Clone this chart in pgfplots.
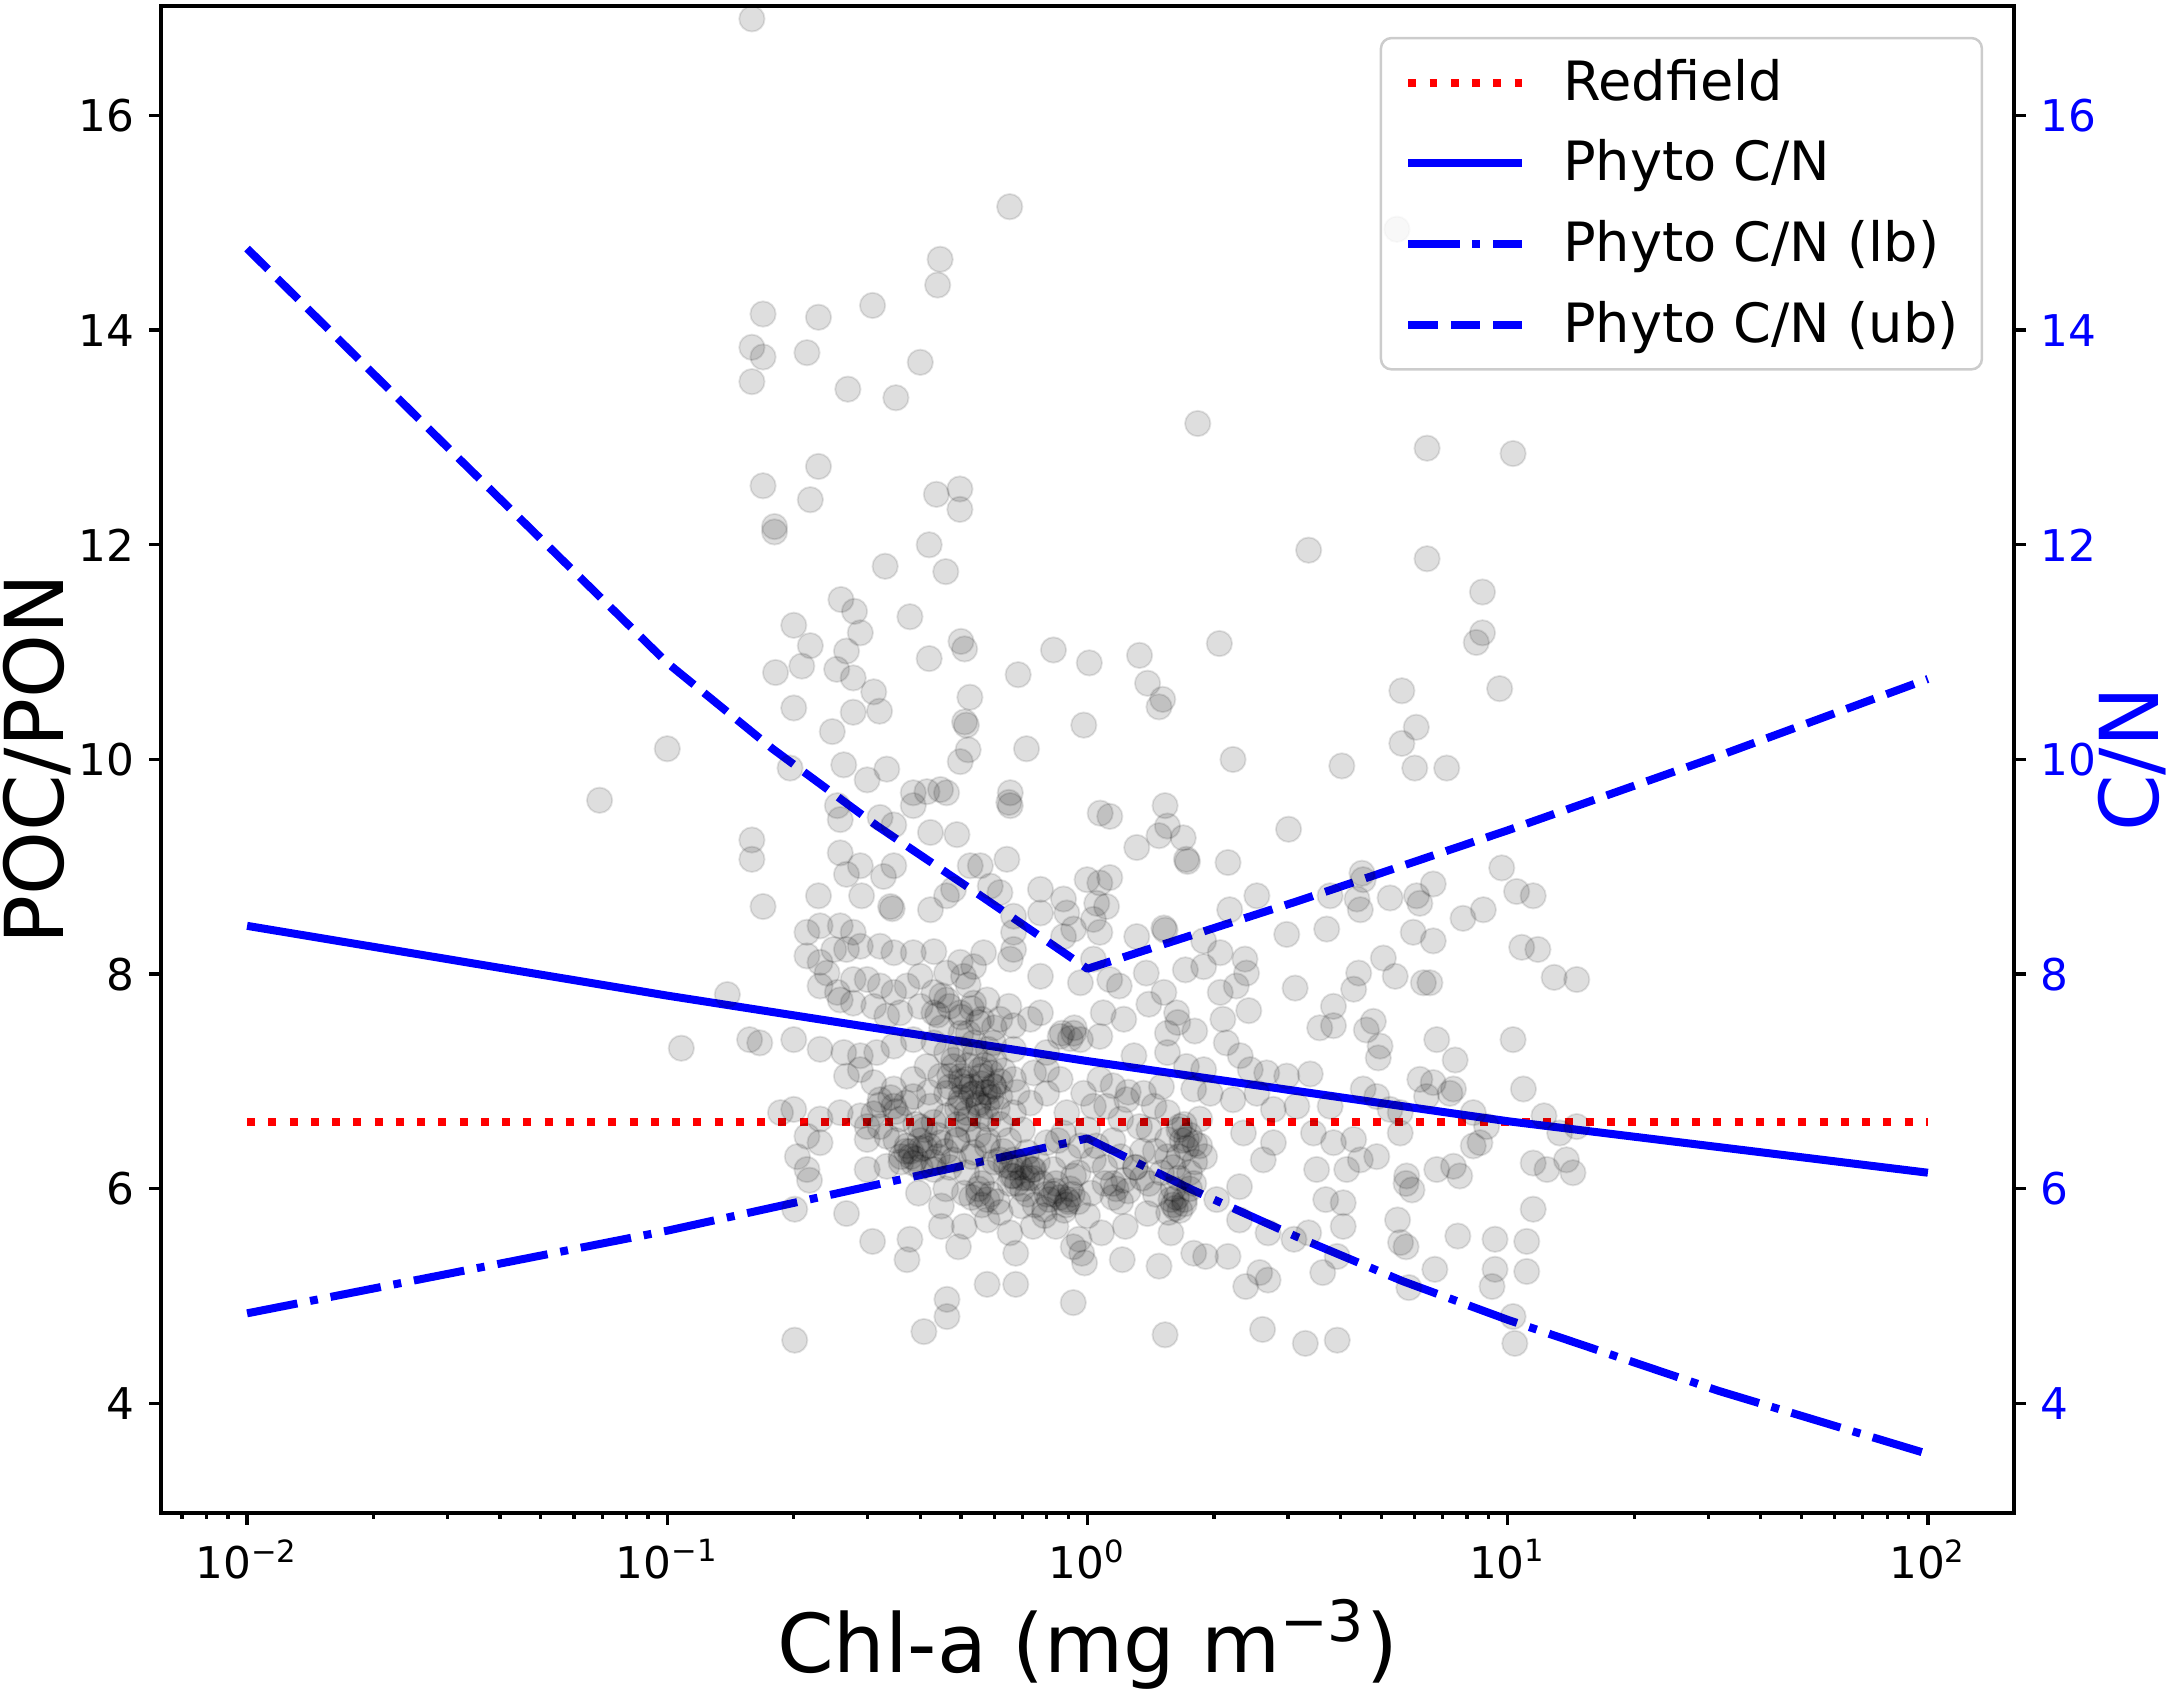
\documentclass[border=0pt]{standalone}
\usepackage{fontspec}
\setmainfont{DejaVu Sans}
\usepackage{pgfplots}
\usepackage{pgfplotstable}
\pgfplotsset{compat=1.18}

\pgfplotstableread{
x y
0.159 16.90
0.653 15.15
0.446 14.66
5.45 14.94
0.169 14.15
0.229 14.12
0.308 14.23
0.440 14.42
0.159 13.84
0.169 13.75
0.215 13.79
0.159 13.52
0.269 13.45
0.350 13.37
0.400 13.70
0.229 12.73
0.169 12.55
0.219 12.42
0.180 12.17
0.180 12.12
0.330 11.80
0.420 12.00
0.460 11.75
0.437 12.47
0.497 12.52
0.497 12.33
0.259 11.49
0.279 11.38
0.288 11.18
0.200 11.25
0.219 11.06
0.181 10.81
0.209 10.87
0.267 11.01
0.253 10.84
0.277 10.76
0.310 10.63
0.320 10.45
0.277 10.44
0.200 10.48
0.247 10.26
0.378 11.33
0.420 10.94
0.500 11.10
0.510 11.03
0.830 11.02
1.010 10.90
0.684 10.79
0.525 10.58
0.510 10.35
0.515 10.32
0.520 10.09
0.980 10.32
0.716 10.10
1.83 13.13
6.43 12.90
10.3 12.85
3.36 11.95
6.43 11.87
8.71 11.56
8.71 11.18
8.42 11.09
9.57 10.66
5.60 10.64
6.06 10.30
5.60 10.15
2.06 11.08
1.33 10.97
1.39 10.71
1.48 10.49
1.51 10.56
2.22 10.00
0.069 9.62
0.100 10.10
0.196 9.92
0.263 9.95
0.299 9.81
0.333 9.91
0.385 9.69
0.415 9.70
0.447 9.72
0.462 9.69
0.498 9.98
0.655 9.69
0.655 9.57
0.650 9.60
1.072 9.50
0.258 9.44
0.254 9.57
0.321 9.46
0.346 9.39
0.423 9.32
0.489 9.30
0.385 9.57
0.159 9.25
0.159 9.07
0.258 9.13
0.267 8.93
0.288 9.01
0.327 8.91
0.346 9.01
0.290 8.73
0.340 8.63
0.343 8.61
0.423 8.60
0.462 8.73
0.480 8.79
0.526 9.01
0.556 9.01
0.643 9.07
0.169 8.63
0.229 8.73
0.587 8.82
0.619 8.76
0.667 8.54
0.773 8.79
0.773 8.57
0.877 8.70
0.893 8.57
0.927 8.42
0.998 8.88
1.052 8.66
1.033 8.51
0.667 8.39
0.667 8.23
0.655 8.14
0.773 7.98
0.877 8.35
0.962 7.92
1.033 8.14
0.215 8.39
0.231 8.45
0.258 8.45
0.277 8.39
0.288 8.26
0.321 8.26
0.346 8.20
0.385 8.20
0.431 8.21
0.498 8.11
0.536 8.07
0.566 8.20
0.215 8.17
0.231 8.11
0.249 8.23
0.267 8.23
0.231 7.89
0.240 8.01
0.254 7.83
0.277 7.95
0.299 7.95
0.321 7.89
0.346 7.83
0.372 7.89
0.400 7.98
0.431 7.83
0.462 8.01
0.507 7.98
0.139 7.81
0.258 7.76
0.277 7.73
0.310 7.70
0.333 7.61
0.358 7.64
0.400 7.70
0.431 7.64
0.462 7.76
0.498 7.64
0.536 7.73
0.577 7.76
0.619 7.58
0.667 7.52
0.731 7.58
0.773 7.64
0.157 7.39
0.166 7.36
0.200 7.39
0.231 7.30
0.263 7.27
0.288 7.24
0.315 7.27
0.346 7.33
0.385 7.39
0.431 7.36
0.462 7.27
0.498 7.30
0.536 7.36
0.597 7.36
0.667 7.30
0.108 7.31
0.861 7.42
0.927 7.45
0.962 7.39
0.800 7.27
0.267 7.05
0.288 7.11
0.310 6.99
0.346 6.93
0.385 7.02
0.415 7.14
0.447 7.05
0.480 7.14
0.516 7.02
0.556 7.11
0.597 6.96
0.667 7.02
0.745 7.08
0.800 7.11
0.861 7.02
0.321 6.83
0.346 6.77
0.385 6.86
0.423 6.77
0.462 6.89
0.498 6.80
0.536 6.89
0.577 6.77
0.619 6.86
0.667 6.71
0.731 6.80
0.800 6.89
0.893 6.71
0.979 6.89
1.033 6.77
0.186 6.71
0.200 6.74
0.231 6.65
0.258 6.71
0.288 6.68
0.299 6.58
0.321 6.58
0.358 6.65
0.400 6.58
0.431 6.62
0.462 6.68
0.516 6.71
0.556 6.68
0.215 6.49
0.231 6.43
0.204 6.30
0.215 6.18
0.299 6.46
0.333 6.49
0.372 6.40
0.400 6.37
0.447 6.43
0.489 6.46
0.536 6.34
0.577 6.40
0.619 6.27
0.667 6.27
0.718 6.34
0.800 6.43
0.877 6.52
0.962 6.40
1.033 6.27
0.299 6.18
0.333 6.21
0.385 6.24
0.431 6.18
0.480 6.27
0.516 6.15
0.577 6.15
0.667 6.12
0.745 6.18
0.830 6.18
0.927 6.12
0.45 7.50
0.50 7.45
0.55 7.55
0.60 7.20
0.52 7.15
0.47 6.95
0.57 6.90
0.62 6.60
0.55 6.50
0.49 6.60
0.44 6.30
0.60 6.25
0.65 6.45
0.70 6.55
0.42 6.90
0.50 6.85
0.58 7.30
0.63 7.10
0.68 6.90
0.53 6.30
0.47 6.20
0.41 6.55
0.38 6.30
0.56 6.05
0.72 6.20
0.45 7.80
0.52 7.90
0.48 7.20
0.65 7.70
0.58 6.65
0.50 7.00
0.53 6.95
0.56 7.05
0.59 6.85
0.61 6.75
0.49 6.75
0.52 6.65
0.55 6.80
0.57 7.15
0.60 6.95
0.47 7.05
0.54 7.25
0.72 5.95
0.75 5.85
0.78 6.05
0.81 5.90
0.74 6.10
0.79 5.75
0.83 5.95
0.76 6.25
0.70 6.10
1.30 6.20
1.40 6.05
1.50 6.15
1.60 6.00
1.70 5.90
1.45 5.95
1.35 6.35
1.55 6.30
1.65 6.10
1.75 6.00
1.80 6.25
0.35 6.45
0.38 6.35
0.40 6.20
0.42 6.40
0.36 6.25
0.44 6.50
0.39 6.60
0.46 6.35
0.49 6.45
0.52 6.55
0.58 6.45
0.63 6.35
0.66 6.20
0.90 6.30
0.95 6.15
1.05 6.40
1.10 6.05
0.85 6.45
1.00 6.55
0.47 7.70
0.50 7.60
0.53 7.68
0.56 7.58
0.44 7.62
0.60 7.50
0.52 7.45
0.50 7.05
0.53 6.88
0.56 6.98
0.59 7.08
0.55 6.78
0.51 6.95
0.58 6.90
0.62 7.00
0.32 6.78
0.34 6.85
0.35 6.72
0.31 6.70
0.37 6.80
0.37 6.35
0.39 6.28
0.41 6.38
0.36 6.30
0.40 6.45
0.43 6.25
0.66 6.12
0.69 6.20
0.72 6.10
0.68 6.05
0.74 6.18
0.64 6.22
0.86 5.92
0.89 5.85
0.92 5.95
0.88 5.80
0.95 5.88
0.84 5.98
0.91 6.00
0.53 5.92
0.56 5.85
0.59 5.95
0.55 6.00
0.61 5.88
1.68 6.45
1.75 6.50
1.72 6.38
1.80 6.42
1.65 6.55
1.60 5.85
1.66 5.80
1.63 5.92
1.70 5.86
1.56 5.78
1.17 6.00
1.22 6.08
1.25 5.98
1.15 5.92
0.87 7.45
0.91 7.40
0.93 7.50
4.03 9.94
6.01 9.92
7.16 9.92
1.13 9.47
1.53 9.57
1.31 9.18
1.48 9.29
1.55 9.38
1.69 9.27
1.72 9.07
1.73 9.05
2.16 9.04
3.01 9.35
1.13 8.90
1.07 8.85
1.11 8.63
1.07 8.39
1.31 8.35
1.52 8.43
1.53 8.41
1.89 8.31
2.07 8.20
1.71 8.04
1.89 8.07
2.37 8.14
2.39 8.01
2.26 7.89
2.07 7.83
2.42 7.66
2.53 8.73
2.18 8.60
2.98 8.37
3.71 8.42
3.78 8.73
4.50 8.94
4.53 8.88
4.46 8.60
4.38 8.70
5.25 8.71
6.07 8.73
6.65 8.84
6.18 8.66
7.83 8.52
8.75 8.60
9.68 8.99
10.5 8.77
11.5 8.73
5.96 8.39
6.65 8.31
10.8 8.25
11.8 8.23
12.9 7.97
14.6 7.95
1.13 7.95
1.19 7.89
1.38 8.01
1.40 7.72
1.52 7.83
1.63 7.64
1.64 7.55
1.80 7.47
1.55 7.45
1.22 7.58
1.09 7.64
1.07 7.42
2.10 7.58
2.14 7.36
2.31 7.24
2.44 7.11
2.67 7.08
2.98 7.05
3.39 7.07
3.12 7.87
4.30 7.86
4.42 8.01
5.06 8.15
5.40 7.98
6.30 7.92
6.53 7.92
3.85 7.70
3.57 7.50
3.85 7.52
4.61 7.48
4.79 7.56
4.97 7.33
4.92 7.22
6.78 7.39
7.50 7.20
10.3 7.39
6.65 6.99
7.43 6.93
10.9 6.93
6.18 7.02
1.29 7.24
1.55 7.27
1.72 7.14
1.89 7.11
1.79 6.93
1.96 6.89
2.22 6.83
2.53 6.89
2.77 6.74
3.15 6.77
3.78 6.77
4.53 6.93
4.88 6.86
5.25 6.74
5.55 6.71
6.41 6.86
7.29 6.89
8.28 6.71
8.91 6.58
12.2 6.68
13.3 6.52
14.6 6.58
1.07 7.02
1.15 6.96
1.24 6.83
1.36 6.89
1.44 6.77
1.55 6.71
1.66 6.58
1.85 6.65
1.72 6.46
1.85 6.40
1.55 6.46
1.33 6.58
1.20 6.65
1.11 6.77
2.35 6.52
2.77 6.43
2.62 6.27
3.45 6.52
3.85 6.43
4.30 6.46
4.46 6.27
4.88 6.30
5.55 6.52
6.78 6.18
7.43 6.21
8.28 6.40
8.59 6.43
11.5 6.24
12.4 6.18
13.8 6.27
14.3 6.15
3.51 6.18
4.14 6.18
5.75 6.12
7.69 6.12
1.20 6.30
1.30 6.20
1.45 6.35
1.60 6.20
1.75 6.15
1.15 6.45
1.40 6.55
1.70 6.60
1.25 6.90
1.50 6.95
1.90 6.30
1.10 6.20
1.35 6.10
1.65 6.30
0.201 4.59
0.408 4.67
0.463 4.81
0.463 4.97
0.577 5.11
0.675 5.11
0.925 4.94
1.53 4.64
2.61 4.69
3.30 4.56
3.93 4.59
10.4 4.56
10.3 4.81
11.5 5.81
9.33 5.53
11.1 5.51
9.33 5.25
11.1 5.23
9.18 5.09
7.61 5.56
6.71 5.25
5.82 5.08
5.56 5.50
5.73 5.46
5.47 5.71
5.92 5.99
5.73 6.05
3.69 5.90
4.06 5.87
3.36 5.59
4.06 5.65
3.63 5.22
3.93 5.37
3.10 5.53
2.69 5.15
2.69 5.59
2.38 5.09
2.57 5.22
2.16 5.37
1.91 5.37
1.79 5.40
1.48 5.28
1.21 5.34
0.984 5.31
0.969 5.40
0.925 5.46
0.675 5.40
0.493 5.46
0.372 5.34
0.378 5.53
0.308 5.51
0.267 5.77
0.201 5.81
0.218 6.08
0.396 5.96
0.449 5.84
0.509 5.96
0.577 5.90
0.654 6.05
0.697 5.84
0.790 5.81
0.896 5.90
1.02 5.96
1.15 6.05
1.79 6.05
1.58 5.90
1.39 5.77
1.23 5.65
1.08 5.59
0.955 5.53
0.841 5.65
0.742 5.65
0.654 5.59
0.577 5.71
0.509 5.65
0.449 5.65
0.841 6.05
1.58 5.59
2.03 5.90
2.30 6.02
2.30 5.71
0.90 5.88
1.62 5.82
0.70 6.00
0.55 5.95
0.62 5.78
0.80 5.95
1.20 5.88
0.46 6.00
1.00 5.75
}\scatterdata

\definecolor{legframe}{gray}{0.8}

\begin{document}
\begin{tikzpicture}
\begin{axis}[
  name=ax, at={(0,0)}, anchor=south west,
  width=444.72pt, height=361.68pt, scale only axis,
  xmode=log, xmin=0.006239, xmax=160.3, ymin=2.98, ymax=17.02,
  xtick={0.01,0.1,1,10,100},
  xticklabels={10\textsuperscript{−2},10\textsuperscript{−1},10\textsuperscript{0},10\textsuperscript{1},10\textsuperscript{2}},
  minor xtick={0.007,0.008,0.009,0.02,0.03,0.04,0.05,0.06,0.07,0.08,0.09,0.2,0.3,0.4,0.5,0.6,0.7,0.8,0.9,2,3,4,5,6,7,8,9,20,30,40,50,60,70,80,90},
  ytick={4,6,8,10,12,14,16},
  tick align=outside, xtick pos=bottom, ytick pos=left,
  major tick length=2.8pt, minor tick length=1.4pt,
  tick style={black, line width=0.8pt},
  axis line style={line width=0.8pt},
  /pgf/number format/assume math mode=true,
  tick label style={font=\fontsize{10.5}{12}\selectfont},
  xlabel={Chl-a (mg m\textsuperscript{−3})},
  ylabel={POC/PON},
  every axis x label/.style={at={(axis description cs:0.5,0)}, anchor=base, yshift=-38.4pt, font=\fontsize{19.5}{22}\selectfont},
  every axis y label/.style={at={(axis description cs:0,0.5)}, xshift=-23.3pt, rotate=90, anchor=base, font=\fontsize{19.5}{22}\selectfont},
  legend image code/.code={\draw[#1] (0pt,0pt) -- (27.4pt,0pt); \path (36.2pt,0pt);},
  legend style={at={(axis description cs:1,1)}, anchor=north east, xshift=-7.4pt, yshift=-7.4pt,
    draw=legframe, line width=0.6pt, rounded corners=2.5pt, fill=white, fill opacity=0.8, text opacity=1, draw opacity=1,
    font=\fontsize{13}{15.6}\selectfont, inner xsep=5.6pt, inner ysep=4pt, row sep=6pt,
    cells={anchor=west}, nodes={inner xsep=0pt, inner ysep=1pt}},
]
\addplot[only marks, mark=*, mark size=3.05pt, forget plot,
  mark options={fill=black, fill opacity=0.13, draw=black, draw opacity=0.10, line width=0.45pt}]
  table[x=x, y=y] {\scatterdata};

\addplot[red, line width=1.92pt, dash pattern=on 1.9pt off 3.2pt] coordinates {(0.01,6.625) (100,6.625)};
\addlegendentry{Redfield}
\addplot[blue, line width=1.92pt, line join=round] coordinates {(0.01,8.45) (0.1,7.80) (1,7.19) (10,6.63) (100,6.15)};
\addlegendentry{Phyto C/N}
\addplot[blue, line width=1.92pt, line join=round, dash pattern=on 12.3pt off 3.1pt on 1.9pt off 3.1pt] coordinates {(0.01,4.84) (0.1,5.61) (0.316,6.04) (1,6.47) (1.778,5.99) (3.162,5.55) (5.623,5.14) (10,4.78) (31.62,4.12) (100,3.53)};
\addlegendentry{Phyto C/N (lb)}
\addplot[blue, line width=1.92pt, line join=round, dash pattern=on 7.1pt off 3.1pt] coordinates {(0.01,14.76) (0.0316,12.82) (0.1,10.90) (0.178,10.10) (0.316,9.38) (0.562,8.72) (1,8.05) (3.162,8.68) (10,9.34) (31.62,10.03) (100,10.75)};
\addlegendentry{Phyto C/N (ub)}
\end{axis}

\begin{axis}[
  at={(0,0)}, anchor=south west,
  width=444.72pt, height=361.68pt, scale only axis,
  xmode=log, xmin=0.006239, xmax=160.3, ymin=2.98, ymax=17.02,
  axis x line=none, axis y line*=right,
  ytick={4,6,8,10,12,14,16},
  tick align=outside, major tick length=2.8pt,
  tick style={black, line width=0.8pt},
  axis line style={line width=0.8pt},
  /pgf/number format/assume math mode=true,
  yticklabel style={font=\fontsize{10.5}{12}\selectfont, text=blue},
  ylabel={C/N},
  every axis y label/.style={at={(axis description cs:1,0.5)}, xshift=34.6pt, rotate=90, anchor=base, font=\fontsize{19.5}{22}\selectfont, text=blue},
]
\addplot[draw=none, forget plot] coordinates {(1,10)};
\end{axis}

\pgfresetboundingbox
\path[use as bounding box] ([xshift=-38.64pt,yshift=-42.72pt]ax.south west) rectangle ([xshift=38.64pt,yshift=1.44pt]ax.north east);
\end{tikzpicture}
\end{document}
